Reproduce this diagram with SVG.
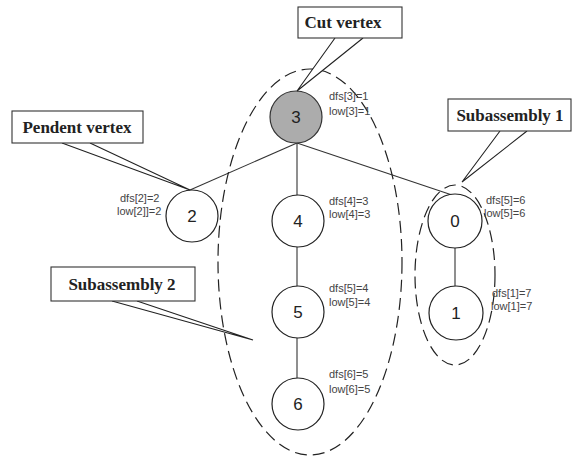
<svg xmlns="http://www.w3.org/2000/svg" width="573" height="456" viewBox="0 0 573 456">
<style>
.node{fill:#fff;stroke:#222;stroke-width:1.2}
.cut{fill:#acacac;stroke:#333;stroke-width:1.2}
.num{font-family:"Liberation Sans",Arial,sans-serif;font-size:17px;fill:#222;text-anchor:middle}
.lab{font-family:"Liberation Sans",Arial,sans-serif;font-size:11px;fill:#444}
.edge{stroke:#333;stroke-width:1.1;fill:none}
.dash{fill:none;stroke:#222;stroke-width:1.2;stroke-dasharray:12 6}
.box{fill:#fff;stroke:#333;stroke-width:1.1}
.ptr{fill:#fff;stroke:#222;stroke-width:1.1;stroke-linejoin:miter}
.title{font-family:"Liberation Serif","Times New Roman",serif;font-size:17px;font-weight:bold;fill:#222}
</style>
<rect width="573" height="456" fill="#fff"/>
<g id="connectors">
<line class="edge" x1="297" y1="143" x2="190" y2="190"/>
<line class="edge" x1="297" y1="143" x2="452" y2="195"/>
<line class="edge" x1="297" y1="143" x2="297" y2="195"/>
<line class="edge" x1="297" y1="247" x2="297" y2="287"/>
<line class="edge" x1="297" y1="338" x2="297" y2="378"/>
<line class="edge" x1="455" y1="248" x2="455" y2="286"/>
</g>
<g id="groups">
<ellipse class="dash" cx="310" cy="262" rx="92" ry="193"/>
<ellipse class="dash" cx="455" cy="275" rx="40" ry="90"/>
</g>
<g id="node3"><circle class="cut" cx="296" cy="117" r="26"/><text class="num" x="296" y="123">3</text>
<text class="lab" x="329" y="100">dfs[3]=1</text><text class="lab" x="329" y="115">low[3]=1</text></g>
<g id="node2"><circle class="node" cx="192" cy="216" r="26"/><text class="num" x="192" y="222">2</text>
<text class="lab" x="120" y="202">dfs[2]=2</text><text class="lab" x="117" y="215">low[2]]=2</text></g>
<g id="node4"><circle class="node" cx="298" cy="221" r="26"/><text class="num" x="298" y="227">4</text>
<text class="lab" x="329" y="205">dfs[4]=3</text><text class="lab" x="329" y="218">low[4]=3</text></g>
<g id="node5"><circle class="node" cx="298" cy="312" r="26"/><text class="num" x="298" y="318">5</text>
<text class="lab" x="329" y="292">dfs[5]=4</text><text class="lab" x="329" y="306">low[5]=4</text></g>
<g id="node6"><circle class="node" cx="298" cy="404" r="26"/><text class="num" x="298" y="410">6</text>
<text class="lab" x="329" y="378">dfs[6]=5</text><text class="lab" x="329" y="393">low[6]=5</text></g>
<g id="node0"><circle class="node" cx="455" cy="221" r="27"/><text class="num" x="455" y="227">0</text>
<text class="lab" x="486" y="204">dfs[5]=6</text><text class="lab" x="484" y="217">low[5]=6</text></g>
<g id="node1"><circle class="node" cx="456" cy="313" r="27"/><text class="num" x="456" y="319">1</text>
<text class="lab" x="492" y="297">dfs[1]=7</text><text class="lab" x="491" y="310">low[1]=7</text></g>
<g id="callout-cut">
<polyline class="ptr" points="335,38 297,91 363,38"/>
<rect class="box" x="298" y="7" width="104" height="31"/>
<text class="title" x="343" y="28" text-anchor="middle">Cut vertex</text>
</g>
<g id="callout-pendent">
<polyline class="ptr" points="62,143 190,190 90,143"/>
<rect class="box" x="12" y="111" width="131" height="32"/>
<text class="title" x="77" y="133" text-anchor="middle">Pendent vertex</text>
</g>
<g id="callout-sub1">
<polyline class="ptr" points="500,131 462,182 527,131"/>
<rect class="box" x="448" y="99" width="123" height="32"/>
<text class="title" x="510" y="121" text-anchor="middle">Subassembly 1</text>
</g>
<g id="callout-sub2">
<polyline class="ptr" points="112,301 253,340 137,301"/>
<rect class="box" x="51" y="267" width="144" height="34"/>
<text class="title" x="122" y="290" text-anchor="middle">Subassembly 2</text>
</g>
</svg>
